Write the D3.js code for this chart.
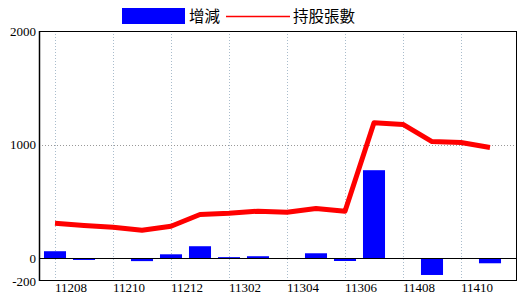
<!DOCTYPE html>
<html>
<head>
<meta charset="utf-8">
<script src="https://cdn.jsdelivr.net/npm/d3@7"></script>
<style>
  html, body { margin: 0; padding: 0; background: #fff; }
  svg { display: block; }
</style>
</head>
<body>
<svg id="chart" width="520" height="300"></svg>
<script>
// ---- data ----
const categories = ["11208","11209","11210","11211","11212","11301","11302","11303",
                    "11304","11305","11306","11407","11408","11409","11410","11411"];
const changes = [62, -15, 0, -25, 35, 106, 10, 18, 0, 44, -24, 775, 0, -147, 0, -44];
const holders = [308, 289, 273, 247, 282, 385, 396, 414, 405, 438, 414, 1192, 1178, 1027, 1019, 975];
const yTicks = [-200, 0, 1000, 2000];
const seriesNames = ["增減", "持股張數"];

// ---- layout ----
const svg = d3.select("#chart");
const plot = { left: 39, right: 517, top: 31, bottom: 281 };

const x = d3.scaleBand()
  .domain(categories)
  .range([40.5, 504.5])
  .paddingInner(0.24)
  .paddingOuter(0.12);

const y = d3.scaleLinear()
  .domain([-200, 2000])
  .range([plot.bottom, plot.top]);

const cx = d => x(d) + x.bandwidth() / 2;

// vertical dotted gridlines every other category
const gridCats = categories.filter((d, i) => i % 2 === 0);
svg.append("g").selectAll("line")
  .data(gridCats)
  .join("line")
  .attr("x1", d => Math.round(cx(d)) + 0.5)
  .attr("x2", d => Math.round(cx(d)) + 0.5)
  .attr("y1", plot.top)
  .attr("y2", plot.bottom)
  .attr("stroke", "#a9bccc")
  .attr("stroke-width", 1)
  .attr("stroke-dasharray", "1,2");

// horizontal dotted gridline at 1000
svg.append("g").selectAll("line")
  .data(yTicks.filter(v => v > 0 && v < 2000))
  .join("line")
  .attr("x1", plot.left)
  .attr("x2", plot.right)
  .attr("y1", d => Math.round(y(d)) + 0.5)
  .attr("y2", d => Math.round(y(d)) + 0.5)
  .attr("stroke", "#999")
  .attr("stroke-width", 1)
  .attr("stroke-dasharray", "1,2");

// bars
svg.append("g").selectAll("rect")
  .data(categories.map((c, i) => ({ c, v: changes[i] })).filter(d => d.v !== 0))
  .join("rect")
  .attr("x", d => x(d.c))
  .attr("width", x.bandwidth())
  .attr("y", d => y(Math.max(0, d.v)))
  .attr("height", d => Math.abs(y(d.v) - y(0)))
  .attr("fill", "#0000ff");

// zero line
svg.append("line")
  .attr("x1", plot.left).attr("x2", plot.right)
  .attr("y1", Math.round(y(0)) + 0.5).attr("y2", Math.round(y(0)) + 0.5)
  .attr("stroke", "#000").attr("stroke-width", 1);

// holders line
const line = d3.line()
  .x((d, i) => cx(categories[i]))
  .y(d => y(d));
svg.append("path")
  .datum(holders)
  .attr("d", line)
  .attr("fill", "none")
  .attr("stroke", "#ff0000")
  .attr("stroke-width", 5)
  .attr("stroke-linejoin", "round");

// frame
svg.append("rect")
  .attr("x", plot.left + 0.5)
  .attr("y", plot.top + 0.5)
  .attr("width", plot.right - plot.left - 1)
  .attr("height", plot.bottom - plot.top - 1)
  .attr("fill", "none")
  .attr("stroke", "#000")
  .attr("stroke-width", 1);
svg.append("line")
  .attr("x1", plot.left + 0.5).attr("x2", plot.left + 0.5)
  .attr("y1", plot.top).attr("y2", plot.bottom)
  .attr("stroke", "#000").attr("stroke-width", 1.5);

// y axis labels
svg.append("g").selectAll("text")
  .data(yTicks)
  .join("text")
  .attr("x", 36)
  .attr("y", d => y(d))
  .attr("dy", "0.35em")
  .attr("text-anchor", "end")
  .attr("font-family", "Liberation Serif, serif")
  .attr("font-size", 13)
  .attr("fill", "#000")
  .text(d => d);

// x axis labels
svg.append("g").selectAll("text")
  .data(gridCats)
  .join("text")
  .attr("x", d => cx(d) + 16)
  .attr("y", 292)
  .attr("text-anchor", "middle")
  .attr("font-family", "Liberation Serif, serif")
  .attr("font-size", 13)
  .attr("fill", "#000")
  .text(d => d);

// legend
const lg = svg.append("g").attr("font-family", "Noto Sans CJK TC, sans-serif").attr("font-size", 15.5);
lg.append("rect").attr("x", 122).attr("y", 8).attr("width", 63).attr("height", 16).attr("fill", "#0000ff");
lg.append("text").attr("x", 189).attr("y", 16).attr("dy", "0.36em").text(seriesNames[0]);
lg.append("line").attr("x1", 226).attr("x2", 290).attr("y1", 16.5).attr("y2", 16.5)
  .attr("stroke", "#ff0000").attr("stroke-width", 1.5);
lg.append("text").attr("x", 293).attr("y", 16).attr("dy", "0.36em").text(seriesNames[1]);
</script>
</body>
</html>
